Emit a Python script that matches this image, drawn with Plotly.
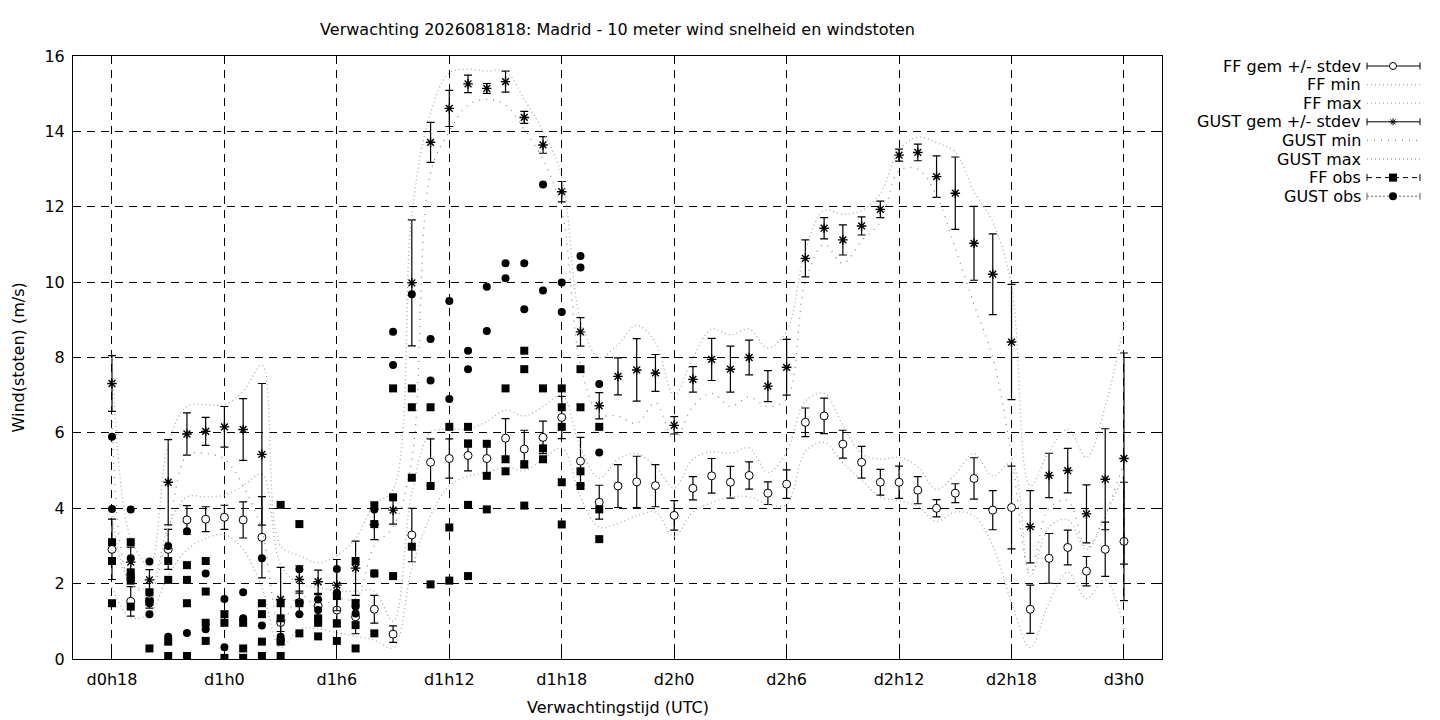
import plotly.graph_objects as go

# forecast hours, counted from d0h0
hours = list(range(18, 73))
tick_hours = [18, 24, 30, 36, 42, 48, 54, 60, 66, 72]
tick_labels = ["d0h18", "d1h0", "d1h6", "d1h12", "d1h18", "d2h0", "d2h6", "d2h12", "d2h18", "d3h0"]

# ensemble mean and stdev of the 10 m wind (FF)
ff_mean = [2.91, 1.53, 1.55, 2.91, 3.69, 3.71, 3.76, 3.69, 3.23, 0.97,
           1.50, 1.41, 1.30, 1.12, 1.32, 0.66, 3.29, 5.22, 5.32, 5.40,
           5.32, 5.86, 5.57, 5.88, 6.41, 5.25, 4.16, 4.59, 4.70, 4.60,
           3.81, 4.53, 4.86, 4.69, 4.87, 4.40, 4.64, 6.28, 6.45, 5.70,
           5.22, 4.69, 4.69, 4.48, 4.00, 4.40, 4.79, 3.95, 4.02, 1.32,
           2.67, 2.96, 2.33, 2.91, 3.12]
ff_sd = [0.80, 0.39, 0.20, 0.53, 0.38, 0.33, 0.32, 0.48, 1.08, 0.45,
         0.30, 0.30, 0.45, 0.45, 0.37, 0.22, 0.71, 0.62, 0.52, 0.41,
         0.38, 0.52, 0.50, 0.43, 0.56, 0.63, 0.45, 0.57, 0.68, 0.56,
         0.39, 0.31, 0.46, 0.42, 0.36, 0.30, 0.38, 0.38, 0.47, 0.37,
         0.42, 0.34, 0.43, 0.36, 0.23, 0.25, 0.55, 0.52, 1.10, 0.64,
         0.66, 0.46, 0.39, 0.72, 1.57]
ff_min = [1.9, 1.1, 1.2, 2.2, 2.9, 3.2, 3.3, 2.9, 1.9, 0.3,
          0.8, 0.8, 0.7, 0.6, 0.5, 0.3, 2.4, 3.8, 4.6, 4.85,
          4.95, 5.1, 5.0, 5.3, 5.6, 4.3, 3.5, 3.6, 3.8, 3.9,
          3.25, 3.9, 4.15, 4.3, 4.3, 4.1, 4.1, 5.5, 5.75, 5.2,
          4.75, 4.3, 4.2, 4.05, 3.65, 3.9, 3.8, 3.0, 1.5, 0.3,
          1.5, 2.3, 1.6, 2.1, 0.8]
ff_max = [3.8, 2.0, 1.9, 3.5, 4.3, 4.3, 4.35, 4.6, 4.9, 2.5,
          2.0, 1.9, 1.8, 1.8, 1.8, 1.0, 4.4, 6.0, 6.1, 6.1,
          6.3, 6.6, 6.45, 6.7, 7.0, 5.6, 4.8, 5.3, 5.45, 5.1,
          4.55, 5.3, 5.5, 5.45, 5.6, 4.95, 5.5, 6.85, 7.05, 6.2,
          5.45, 5.3, 5.35, 5.1, 4.5, 4.9, 5.45, 4.85, 5.2, 2.2,
          3.5, 3.7, 2.9, 3.8, 4.9]

# ensemble mean and stdev of the gusts
gust_mean = [7.31, 2.57, 2.10, 4.69, 5.97, 6.04, 6.16, 6.09, 5.43, 1.58,
             2.11, 2.05, 1.96, 2.41, 3.57, 3.95, 9.98, 13.71, 14.61, 15.26,
             15.14, 15.32, 14.37, 13.64, 12.40, 8.68, 6.72, 7.50, 7.67, 7.59,
             6.20, 7.42, 7.95, 7.69, 8.00, 7.24, 7.74, 10.63, 11.43, 11.12,
             11.49, 11.93, 13.37, 13.44, 12.80, 12.36, 11.03, 10.21, 8.41, 3.51,
             4.87, 5.00, 3.85, 4.77, 5.32]
gust_sd = [0.74, 0.40, 0.27, 1.13, 0.56, 0.37, 0.54, 0.82, 1.88, 0.85,
           0.36, 0.31, 0.68, 0.72, 0.40, 0.37, 1.67, 0.53, 0.48, 0.23,
           0.13, 0.28, 0.16, 0.22, 0.27, 0.38, 0.35, 0.49, 0.83, 0.49,
           0.23, 0.34, 0.56, 0.61, 0.46, 0.41, 0.74, 0.49, 0.28, 0.40,
           0.24, 0.22, 0.16, 0.22, 0.55, 0.96, 0.98, 1.07, 1.53, 0.96,
           0.59, 0.59, 0.77, 1.34, 2.80]
gust_min = [6.5, 2.0, 1.8, 3.4, 5.4, 5.45, 5.3, 4.6, 3.4, 0.9,
            1.7, 1.4, 1.6, 1.6, 3.0, 3.5, 5.3, 12.9, 14.0, 14.7,
            14.85, 14.7, 14.05, 13.25, 11.9, 7.8, 6.5, 6.45, 6.25, 6.8,
            5.8, 6.7, 7.05, 6.7, 6.95, 6.7, 6.9, 10.0, 11.0, 10.5,
            11.1, 11.6, 12.95, 13.0, 12.3, 10.9, 9.4, 8.0, 5.4, 2.3,
            4.0, 4.2, 2.95, 3.85, 5.2]
gust_max = [8.1, 3.2, 2.5, 5.7, 6.7, 6.75, 6.75, 7.1, 7.8, 3.0,
            2.75, 2.55, 2.75, 3.2, 4.1, 4.5, 11.8, 14.5, 15.55, 15.65,
            15.6, 15.6, 14.85, 14.0, 12.8, 9.0, 8.0, 8.35, 8.85, 8.4,
            7.0, 8.0, 8.75, 8.6, 8.75, 8.25, 8.7, 10.85, 11.9, 11.8,
            11.9, 12.35, 13.5, 13.85, 13.7, 13.45, 12.4, 11.6, 9.9, 4.6,
            5.5, 6.1, 5.35, 6.7, 8.9]

# station observations, one list per hour (d0h18 .. d1h20)
obs_hours = list(range(18, 45))
ff_obs = [[3.10, 2.60, 1.48], [3.10, 2.30, 2.17, 2.08, 1.39], [1.77, 1.52, 0.28],
          [2.60, 2.10, 0.46, 0.08], [2.49, 2.10, 1.48, 0.08], [2.60, 1.79, 0.96, 0.48],
          [1.19, 0.96, 0.03], [0.96, 0.28, 0.03], [1.48, 1.19, 0.46, 0.08],
          [4.09, 1.48, 1.08, 0.46, 0.08], [3.58, 1.48, 0.68], [1.08, 0.96, 0.60],
          [1.67, 0.95, 0.48], [2.60, 1.48, 0.90, 0.28], [4.08, 3.58, 2.27, 0.68],
          [7.18, 4.29, 2.20], [7.18, 6.68, 4.81, 2.98], [6.68, 4.59, 1.98],
          [6.16, 3.49, 2.08], [6.16, 5.71, 4.09, 2.20], [5.71, 4.86, 3.97],
          [7.18, 5.30, 4.98], [8.18, 7.69, 5.17, 4.07], [7.18, 5.59, 5.30],
          [7.18, 6.68, 6.16, 4.69, 3.57], [7.69, 6.68, 4.98, 4.59], [6.16, 3.97, 3.18]]
gust_obs = [[5.90, 3.98], [3.97, 2.67], [2.59, 1.48, 1.19], [3.00, 0.59], [3.39, 0.69],
            [2.27, 0.79], [1.59, 0.31], [1.77, 1.08], [2.67, 0.89], [0.59, 0.48],
            [2.38, 1.19], [1.58, 1.30], [2.39, 1.76], [1.39, 1.21], [3.97, 2.27],
            [8.68, 7.80], [9.68], [8.49, 7.39], [9.50, 6.90], [8.18, 7.69],
            [9.88, 8.70], [10.50, 10.10], [10.50, 9.28], [12.59, 9.78], [9.99, 9.21],
            [10.69, 10.39], [7.30, 5.48]]

ff_obs_x = [h for h, vals in zip(obs_hours, ff_obs) for v in vals]
ff_obs_y = [v for vals in ff_obs for v in vals]
gust_obs_x = [h for h, vals in zip(obs_hours, gust_obs) for v in vals]
gust_obs_y = [v for vals in gust_obs for v in vals]

FONT = "DejaVu Sans"
FS = 16
errbar = dict(type="data", color="black", thickness=1.2, width=4)

fig = go.Figure()

# FF gem +/- stdev
fig.add_trace(go.Scatter(
    x=hours, y=ff_mean, mode="markers", name="FF gem +/- stdev",
    error_y=dict(errbar, array=ff_sd),
    marker=dict(symbol="circle", size=8, color="white", line=dict(color="black", width=1)),
))
# FF min / max
fig.add_trace(go.Scatter(x=hours, y=ff_min, mode="lines", name="FF min",
                         line=dict(color="#a8a8a8", width=1.3, dash="1px,3px", shape="spline", smoothing=1.0)))
fig.add_trace(go.Scatter(x=hours, y=ff_max, mode="lines", name="FF max",
                         line=dict(color="#a8a8a8", width=1.3, dash="1px,3px", shape="spline", smoothing=1.0)))
# GUST gem +/- stdev
fig.add_trace(go.Scatter(
    x=hours, y=gust_mean, mode="markers", name="GUST gem +/- stdev",
    error_y=dict(errbar, array=gust_sd),
    marker=dict(symbol="asterisk-open", size=8, color="black", line=dict(color="black", width=1.4)),
))
# GUST min / max
fig.add_trace(go.Scatter(x=hours, y=gust_min, mode="lines", name="GUST min",
                         line=dict(color="#8c8c8c", width=1.3, dash="1px,6px", shape="spline", smoothing=1.0)))
fig.add_trace(go.Scatter(x=hours, y=gust_max, mode="lines", name="GUST max",
                         line=dict(color="#a8a8a8", width=1.3, dash="1px,3px", shape="spline", smoothing=1.0)))
# observations
fig.add_trace(go.Scatter(x=ff_obs_x, y=ff_obs_y, mode="markers", name="FF obs",
                         marker=dict(symbol="square", size=8, color="black")))
fig.add_trace(go.Scatter(x=gust_obs_x, y=gust_obs_y, mode="markers", name="GUST obs",
                         marker=dict(symbol="circle", size=8, color="black")))

# plot area in page pixels: x 73..1162, y 56..659
def px(x):
    return (x - 73) / 1089.0


def py(y):
    return (659 - y) / 603.0


# gnuplot style key: text right aligned, sample on the right
shapes = []
annotations = []
key_rows = ["FF gem +/- stdev", "FF min", "FF max", "GUST gem +/- stdev",
            "GUST min", "GUST max", "FF obs", "GUST obs"]
x0, x1, xc = 1367, 1420, 1393
for i, label in enumerate(key_rows):
    yy = 66 + i * 18.6
    annotations.append(dict(x=px(1363), y=py(yy), xref="paper", yref="paper", text=label,
                            showarrow=False, xanchor="right", yanchor="middle",
                            font=dict(family=FONT, size=FS, color="black")))
    line = dict(type="line", xref="paper", yref="paper", x0=px(x0), x1=px(x1), y0=py(yy), y1=py(yy))
    if label in ("FF gem +/- stdev", "GUST gem +/- stdev", "FF obs", "GUST obs"):
        dash = {"FF obs": "5px,4px", "GUST obs": "2px,2px"}.get(label, "solid")
        col = "#666666" if label == "GUST obs" else "black"
        shapes.append(dict(line, line=dict(color=col, width=1, dash=dash)))
        for xe in (x0, x1):
            shapes.append(dict(type="line", xref="paper", yref="paper", x0=px(xe), x1=px(xe),
                               y0=py(yy - 3.5), y1=py(yy + 3.5), line=dict(color=col, width=1)))
        if label == "FF gem +/- stdev":
            shapes.append(dict(type="circle", xref="paper", yref="paper", x0=px(xc - 3.5), x1=px(xc + 3.5),
                               y0=py(yy - 3.5), y1=py(yy + 3.5), fillcolor="white",
                               line=dict(color="black", width=1)))
        elif label == "GUST gem +/- stdev":
            for dx, dy in ((3.5, 0), (0, 3.5), (2.5, 2.5), (2.5, -2.5)):
                shapes.append(dict(type="line", xref="paper", yref="paper", x0=px(xc - dx), x1=px(xc + dx),
                                   y0=py(yy - dy), y1=py(yy + dy), line=dict(color="black", width=1)))
        elif label == "FF obs":
            shapes.append(dict(type="rect", xref="paper", yref="paper", x0=px(xc - 4), x1=px(xc + 4),
                               y0=py(yy - 4), y1=py(yy + 4), fillcolor="black",
                               line=dict(color="black", width=0)))
        else:
            shapes.append(dict(type="circle", xref="paper", yref="paper", x0=px(xc - 4), x1=px(xc + 4),
                               y0=py(yy - 4), y1=py(yy + 4), fillcolor="black",
                               line=dict(color="black", width=0)))
    elif label == "GUST min":
        shapes.append(dict(line, line=dict(color="#8c8c8c", width=1.3, dash="1px,6px")))
    else:
        shapes.append(dict(line, line=dict(color="#a8a8a8", width=1.3, dash="1px,3px")))

# axis titles
annotations.append(dict(x=0.5, y=py(707), xref="paper", yref="paper", text="Verwachtingstijd (UTC)",
                        showarrow=False, xanchor="center", yanchor="middle",
                        font=dict(family=FONT, size=FS, color="black")))
annotations.append(dict(x=px(18), y=0.5, xref="paper", yref="paper", text="Wind(stoten) (m/s)",
                        showarrow=False, xanchor="center", yanchor="middle", textangle=-90,
                        font=dict(family=FONT, size=FS, color="black")))

axis_style = dict(
    showgrid=True, gridcolor="black", gridwidth=1, griddash="8px,6px",
    showline=True, linecolor="black", linewidth=1, mirror="ticks",
    ticks="inside", ticklen=7, tickcolor="black", zeroline=False,
    tickfont=dict(family=FONT, size=FS, color="black"),
)

# the page body adds an 8px offset, so the figure is 8px smaller than the window
fig.update_layout(
    width=1432, height=712,
    margin=dict(l=65, r=278, t=48, b=61),
    paper_bgcolor="white", plot_bgcolor="white",
    showlegend=False,
    title=dict(text="Verwachting 2026081818: Madrid - 10 meter wind snelheid en windstoten",
               x=0.5, xref="paper", xanchor="center", y=1 - 21 / 712, yanchor="middle",
               font=dict(family=FONT, size=FS, color="black")),
    xaxis=dict(axis_style, range=[15.92, 74.03], tickvals=tick_hours, ticktext=tick_labels,
               ticklabelstandoff=6),
    yaxis=dict(axis_style, range=[0, 16], tickvals=list(range(0, 17, 2)), ticklabelstandoff=4),
    shapes=shapes,
    annotations=annotations,
)

fig.write_html("out.html")
